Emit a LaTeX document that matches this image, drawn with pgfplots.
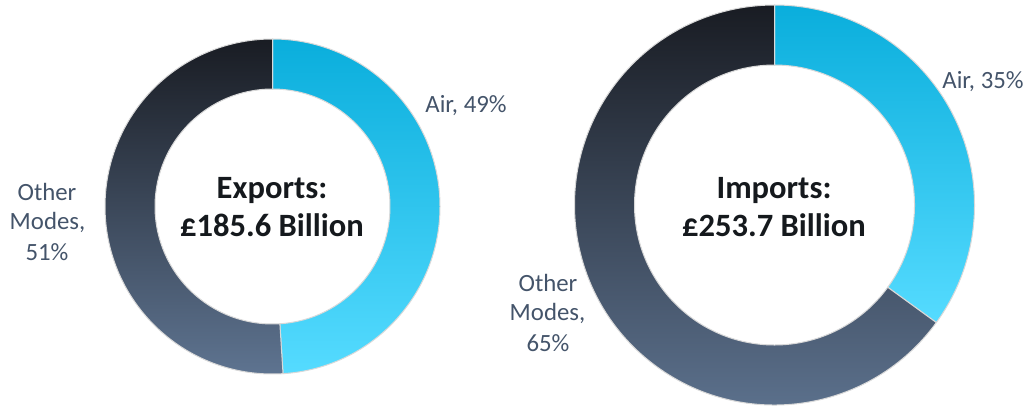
\documentclass[border=0pt]{standalone}
\usepackage{fontspec}
\setmainfont{Carlito}
\usepackage{pgfplots}
\usepackage{pgfplotstable}
\pgfplotsset{compat=1.18}

\definecolor{airtop}{HTML}{0AAEDC}
\definecolor{airbot}{HTML}{55DBFF}
\definecolor{othtop}{HTML}{191C23}
\definecolor{othbot}{HTML}{5F7592}
\definecolor{lbl}{HTML}{44546A}
\definecolor{ctr}{HTML}{15191D}
\definecolor{rim}{HTML}{D9D9D9}

\tikzset{
  lbl/.style={anchor=base, text=lbl, font=\fontsize{18.6}{22}\selectfont},
  ttl/.style={anchor=base, text=ctr, font=\bfseries\fontsize{24.4}{28}\selectfont},
}

% share of trade value by mode, per cent
\pgfplotstableread{
mode share
Air 49
Other 51
}\exports
\pgfplotstableread{
mode share
Air 35
Other 65
}\imports

% ring segment: centre x, centre y, inner r, outer r, start angle, end angle, style
\newcommand{\ringpart}[7]{%
  \path[draw=rim, line width=0.75pt, #7]
    (axis cs:{#1+#4*cos(#5)},{#2+#4*sin(#5)})
    arc[start angle=#5, end angle=#6, radius=#4]
    -- (axis cs:{#1+#3*cos(#6)},{#2+#3*sin(#6)})
    arc[start angle=#6, end angle=#5, radius=#3] -- cycle;}

\begin{document}
\begin{tikzpicture}
\useasboundingbox (0,0) rectangle (772.5pt,303.75pt);

\pgfplotstablegetelem{0}{share}\of\exports \let\expair\pgfplotsretval
\pgfplotstablegetelem{1}{share}\of\exports \let\expoth\pgfplotsretval
\pgfplotstablegetelem{0}{share}\of\imports \let\impair\pgfplotsretval
\pgfplotstablegetelem{1}{share}\of\imports \let\impoth\pgfplotsretval
\pgfmathsetmacro\expcut{90-3.6*\expair}
\pgfmathsetmacro\impcut{90-3.6*\impair}

\begin{axis}[
  at={(0,0)}, anchor=south west,
  scale only axis,
  width=772.5pt, height=303.75pt,
  xmin=0, xmax=1030, ymin=0, ymax=405,
  hide axis, clip=false,
]
  % exports
  \ringpart{272.5}{198.5}{117.5}{167.5}{90}{\expcut}{top color=airtop, bottom color=airbot}
  \ringpart{272.5}{198.5}{117.5}{167.5}{\expcut}{-270}{top color=othtop, bottom color=othbot}
  % imports
  \ringpart{774.5}{200}{140}{200}{90}{\impcut}{top color=airtop, bottom color=airbot}
  \ringpart{774.5}{200}{140}{200}{\impcut}{-270}{top color=othtop, bottom color=othbot}

  \node[ttl] at (axis cs:272,207) {Exports:};
  \node[ttl] at (axis cs:272,168.3) {£185.6 Billion};
  \node[ttl] at (axis cs:774,207) {Imports:};
  \node[ttl] at (axis cs:774,168.3) {£253.7 Billion};

  \node[lbl] at (axis cs:466,293) {Air, \expair\%};
  \node[lbl] at (axis cs:47,204.3) {Other};
  \node[lbl] at (axis cs:47.5,176) {Modes,};
  \node[lbl] at (axis cs:47,145) {\expoth\%};

  \node[lbl] at (axis cs:983,316.7) {Air, \impair\%};
  \node[lbl] at (axis cs:548,113.3) {Other};
  \node[lbl] at (axis cs:547.5,84.3) {Modes,};
  \node[lbl] at (axis cs:548,53.3) {\impoth\%};
\end{axis}
\end{tikzpicture}
\end{document}
